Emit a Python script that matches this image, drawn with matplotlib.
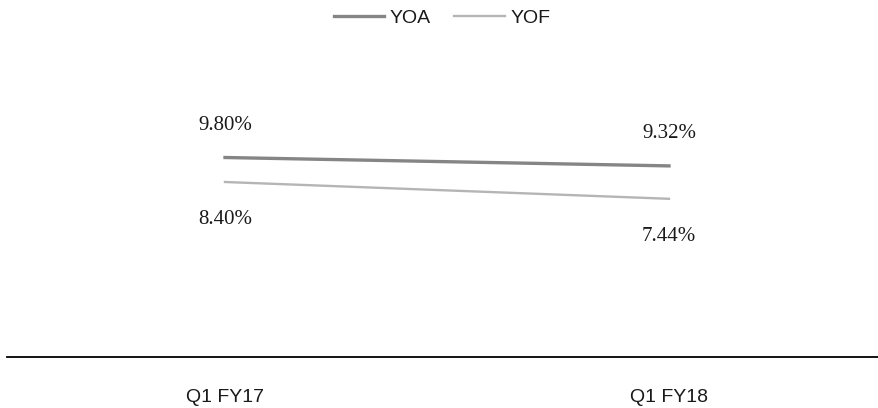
import matplotlib
matplotlib.use('Agg')
import matplotlib.pyplot as plt

quarters = ['Q1 FY17', 'Q1 FY18']
yoa = [9.80, 9.32]
yof = [8.40, 7.44]

label_font = ['Liberation Serif', 'DejaVu Serif']
sans_font = ['Liberation Sans Narrow', 'Liberation Sans', 'DejaVu Sans']

fig = plt.figure(figsize=(8.79, 4.08), dpi=100)
ax = fig.add_axes([7 / 879, 1 - 357 / 408, 872 / 879, 357 / 408])

x = list(range(len(quarters)))
ax.plot(x, yoa, color='#858585', linewidth=2.4, label='YOA')
ax.plot(x, yof, color='#b5b5b5', linewidth=1.7, label='YOF')

# data labels: YOA above the line, YOF below it
for i, v in enumerate(yoa):
    ax.annotate('{:.2f}%'.format(v), (x[i], v), xytext=(0, 23), textcoords='offset points',
                ha='center', va='center', fontsize=15, family=label_font, color='#1a1a1a')
for i, v in enumerate(yof):
    ax.annotate('{:.2f}%'.format(v), (x[i], v), xytext=(0, -27), textcoords='offset points',
                ha='center', va='center', fontsize=15, family=label_font, color='#1a1a1a')

ax.set_xlim(-0.491, 1.473)
ax.set_ylim(-1.6, 18.8)

for side in ['top', 'right', 'left']:
    ax.spines[side].set_visible(False)
ax.spines['bottom'].set_color('black')
ax.spines['bottom'].set_linewidth(1.3)
ax.set_yticks([])
ax.set_xticks(x)
ax.set_xticklabels(quarters, fontsize=14, family=sans_font, color='#1a1a1a')
ax.tick_params(axis='x', length=0, pad=23)

fig.legend(loc='upper center', bbox_to_anchor=(0.503, 1.02), ncol=2, frameon=False,
           prop={'family': sans_font, 'size': 14}, handlelength=2.6, handletextpad=0.3,
           columnspacing=1.2, labelcolor='#1a1a1a')

fig.savefig('out.png', dpi=100)
